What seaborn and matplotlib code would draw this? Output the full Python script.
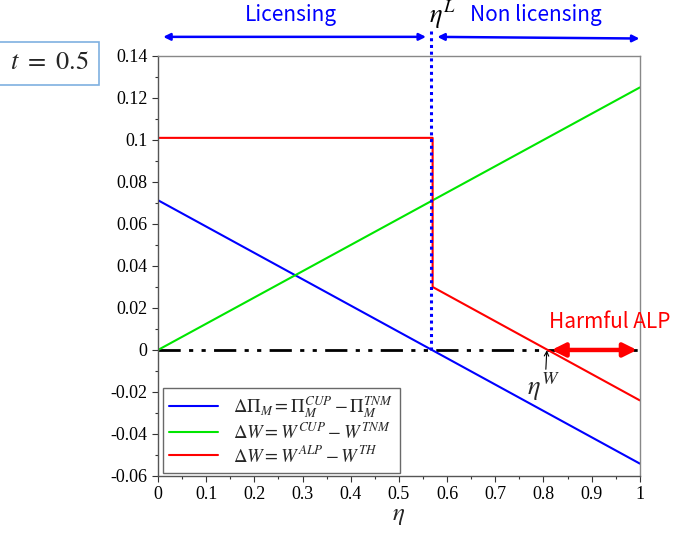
import matplotlib
matplotlib.use('Agg')
import matplotlib.pyplot as plt
import numpy as np
import pandas as pd
import seaborn as sns

# values
eta = [0.0, 1.0]
d_profit = [0.0713, -0.0541]
d_welfare_cup = [0.0, 0.125]
eta_red = [0.0, 0.57, 0.57, 1.0]
d_welfare_alp = [0.101, 0.101, 0.030, -0.024]
eta_L = 0.57
eta_W = 0.807
t_value = 0.5

sns.set_style('ticks')
plt.rcParams['font.family'] = ['Liberation Serif', 'DejaVu Serif']
plt.rcParams['mathtext.fontset'] = 'stix'

fig = plt.figure(figsize=(6.85, 5.33), dpi=100)
ax = fig.add_axes([0.2307, 0.107, 0.7033, 0.788])

sns.lineplot(x=eta, y=d_profit, color='#0000ff', lw=1.5, ax=ax,
             label=r'$\Delta\Pi_M = \Pi_M^{CUP} - \Pi_M^{TNM}$')
sns.lineplot(x=eta, y=d_welfare_cup, color='#00e600', lw=1.5, ax=ax,
             label=r'$\Delta W = W^{CUP} - W^{TNM}$')
sns.lineplot(x=eta_red, y=d_welfare_alp, color='#ff0000', lw=1.5, ax=ax,
             estimator=None, sort=False,
             label=r'$\Delta W = W^{ALP} - W^{TH}$')

# zero reference line
ax.plot(eta, [0, 0], color='black', lw=2, dashes=(8, 3, 1.5, 3, 1.5, 3), zorder=1)

# eta^L dotted line reaching above the axes
ax.plot([eta_L - 0.003, eta_L - 0.003], [0, 0.1534], color='#0000ff', lw=2.2,
        ls=(0, (1, 1.2)), clip_on=False, zorder=4)

ax.set_xlim(0, 1)
ax.set_ylim(-0.06, 0.14)
ax.set_xticks(np.arange(0, 1.01, 0.1))
ax.set_xticklabels(['0', '0.1', '0.2', '0.3', '0.4', '0.5', '0.6', '0.7', '0.8', '0.9', '1'])
ax.set_xticks(np.arange(0.05, 1, 0.1), minor=True)
ax.set_yticks(np.arange(-0.06, 0.141, 0.02))
ax.set_yticklabels(['-0.06', '-0.04', '-0.02', '0', '0.02', '0.04', '0.06', '0.08', '0.1', '0.12', '0.14'])
ax.set_yticks(np.arange(-0.05, 0.14, 0.02), minor=True)
ax.tick_params(axis='both', which='major', labelsize=13, length=4, width=0.8, colors='#333333')
ax.tick_params(axis='both', which='minor', length=2, width=0.8, colors='#333333')
for lab in ax.get_xticklabels() + ax.get_yticklabels():
    lab.set_color('black')
for side in ['top', 'right']:
    ax.spines[side].set_color('#888888')
    ax.spines[side].set_linewidth(1)
for side in ['left', 'bottom']:
    ax.spines[side].set_color('#555555')
    ax.spines[side].set_linewidth(1)

ax.set_xlabel(r'$\eta$', fontsize=18, labelpad=1)

leg = ax.legend(loc='lower left', fontsize=13.5, frameon=True, fancybox=False,
                edgecolor='#444444', handlelength=2.6, borderpad=0.35,
                labelspacing=0.12, borderaxespad=0, bbox_to_anchor=(0.01, 0.008))
leg.get_frame().set_linewidth(1)

# top annotations: licensing regions
blue = '#0000ff'
ax.annotate('', xy=(0.005, 0.1491), xytext=(eta_L - 0.008, 0.1491),
            arrowprops=dict(arrowstyle='<|-|>', color=blue, lw=1.8, mutation_scale=10),
            annotation_clip=False)
ax.annotate('', xy=(eta_L + 0.004, 0.1491), xytext=(1.005, 0.1483),
            arrowprops=dict(arrowstyle='<|-|>', color=blue, lw=1.8, mutation_scale=10),
            annotation_clip=False)
ax.text(0.275, 0.1597, 'Licensing', color=blue, fontsize=15, ha='center', va='center',
        family=['Noto Sans CJK JP', 'DejaVu Sans'], clip_on=False)
ax.text(0.785, 0.1597, 'Non licensing', color=blue, fontsize=15, ha='center', va='center',
        family=['Noto Sans CJK JP', 'DejaVu Sans'], clip_on=False)
ax.text(eta_L + 0.02, 0.1597, r'$\eta^L$', color='black', fontsize=19, ha='center',
        va='center', clip_on=False)

# harmful ALP region
ax.annotate('', xy=(eta_W + 0.004, 0), xytext=(1.0, 0),
            arrowprops=dict(arrowstyle='<|-|>', color='#ff0000', lw=3.2, mutation_scale=20),
            annotation_clip=False, zorder=5)
ax.text(0.812, 0.0134, 'Harmful ALP', color='#ff0000', fontsize=15, ha='left', va='center',
        family=['Noto Sans CJK JP', 'DejaVu Sans'], clip_on=False)
ax.text(0.80, -0.0098, r'$\eta^W$', fontsize=19, ha='center', va='top')
ax.annotate('', xy=(eta_W, -0.0002), xytext=(0.805, -0.0092),
            arrowprops=dict(arrowstyle='->', color='black', lw=0.8, mutation_scale=8,
                            shrinkA=0, shrinkB=0))

# t value box
fig.text(0.072, 0.881, rf'$t\ =\ {t_value}$', fontsize=19, ha='center', va='center',
         bbox=dict(boxstyle='square,pad=0.4', fc='white', ec='#7fb0e0', lw=1.2))

fig.savefig('out.png', dpi=100)
